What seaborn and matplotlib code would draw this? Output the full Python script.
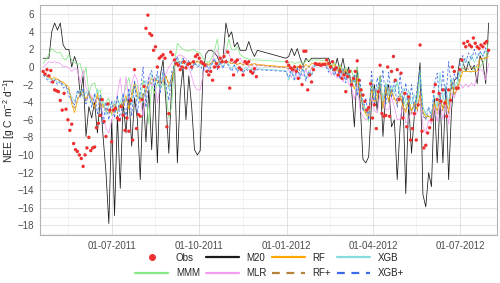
"""
NEE time series: observations vs. model predictions.
"""
import numpy as np
import pandas as pd
import matplotlib
matplotlib.use('Agg')
import matplotlib.pyplot as plt
import matplotlib.dates as mdates
from matplotlib.lines import Line2D
import seaborn as sns

nan = np.nan

# model series: one value every 3 days from 2011-04-20 (nan = no data)
model_start = "2011-04-20"

m20 = [1.0, 1.0, 1.0, 4.0, 5.0, 4.2, 5.0, 2.5, 2.0, 2.0,
       0.0, 1.2, 0.2, -3.3, -1.0, -7.9, -4.5, -5.8, -4.0, -7.5,
       -3.5, -8.0, -12.0, -17.8, -6.0, -16.9, -5.5, -13.8, -4.0, -7.5,
       -3.0, -9.0, -3.5, -6.0, -12.8, -3.0, -8.5, -2.5, -9.4, -2.0,
       -10.9, -1.0, 0.8, -4.0, -9.8, -2.0, 0.5, -10.9, -3.0, 0.0,
       -6.0, -1.0, -4.5, -9.4, -10.0, -9.5, -0.5, 1.5, 1.9, 1.9,
       1.6, 1.2, 0.3, 1.0, 5.0, 3.4, 4.0, 2.3, 2.8, 1.9,
       1.9, 1.9, 2.9, 1.9, 1.2, 1.9,
       nan, nan, nan, nan, nan, nan, nan, nan, nan,
       1.0, 1.2, 2.1, 1.3, 2.1, 1.0, 0.2, 1.0, 0.6, 1.0,
       1.0, 1.0, 1.0, 1.0, 1.0, 1.0, 0.0, -0.3, 1.0, -0.5,
       1.0, -0.9, 0.0, -2.5, -6.8, 0.0, -4.0, -10.5, -10.9, -10.2,
       -4.0, -2.0, -5.0, -1.0, -7.9, -3.0, -2.0, -6.8, -6.0, -12.8,
       -6.8, -3.5, -14.4, -4.0, -9.8, -5.5, -3.0, 0.5, -14.5, -15.9,
       -12.0, -13.6, -3.5, -10.9, -3.7, -10.9, -2.2, -12.8, -5.0, -1.5,
       -1.2, 1.0, 0.6, -0.5, 0.6, -0.3, 0.2, -1.9, 1.3, 0.5, -1.9, 5.0]

mmm = [0.4, 0.8, 1.5, 2.1, 1.8, 1.6, 1.7, 1.0, 0.8, 1.4,
       0.8, 0.5, 0.3, 0.4, -1.1, 0.0, -3.0, -2.0, -1.8, -3.0,
       -2.6, -4.5, -4.0, -3.5, -5.5, -5.2, -3.5, -4.5, -3.5, -2.2,
       -1.2, -3.0, -1.8, -2.2, -3.8, -1.5, -3.2, -6.5, -2.0, -3.0,
       -1.8, -2.4, -1.9, -2.5, -5.8, -4.5, 0.5, 2.7, 2.3, 2.0,
       1.9, 1.8, 2.0, 1.9, 1.7, 1.6, 1.0, 0.6, 0.5, 1.0,
       1.9, 3.2, 0.3, 1.2, 1.6, 3.2, 2.0, 1.9, 2.3, 1.4,
       1.2, 1.0, 0.9, 0.8, 0.8, 0.8,
       nan, nan, nan, nan, nan, nan, nan, nan, nan,
       0.6, 0.5, 0.6, 0.4, 0.5, 0.6, 0.3, 0.7, 0.8, 0.8,
       0.8, 0.8, 0.8, 0.7, 0.8, 0.4, 0.2, 0.5, -0.2, 0.3,
       -0.5, 0.0, -1.0, -0.3, -1.8, 0.0, -2.8, -4.0, -5.2, -6.2,
       -1.5, -3.0, -3.0, -1.1, -3.8, -1.8, -3.2, -2.6, -2.5, -1.9,
       -3.0, -3.6, -4.5, -3.7, -4.9, -4.5, -3.5, -0.3, -4.5, -5.5,
       -5.6, -5.8, -4.5, -4.2, -3.8, -4.6, -3.5, -4.0, -1.5, -2.6,
       -2.2, -0.5, -0.1, -0.5, -0.5, -0.6, 0.0, 0.0, 0.0, 0.5, 1.0, 3.0]

mlr = [0.0, 0.3, 0.6, 0.5, 0.6, 0.5, 0.4, 0.0, 0.1, -0.1,
       -0.5, -0.2, -0.3, -1.8, -0.3, -2.3, -3.0, -3.3, -4.0, -3.5,
       -4.0, -5.6, -7.0, -7.5, -6.0, -4.8, -3.0, -1.2, -4.0, -1.1,
       -3.7, -1.9, -0.8, -1.5, -3.7, -5.6, -3.0, -1.0, -2.2, -1.1,
       -4.1, -2.0, -1.4, -0.8, 0.0, 0.4, 1.0, 1.2, 1.4, 1.2,
       1.0, 0.0, -1.1, -2.2, -2.6, -2.6, -0.8, 0.2, -0.2, 0.5,
       1.6, 1.9, 0.2, 1.2, 2.0, 1.6, 0.6, 0.4, 0.6, 1.0,
       0.4, 0.8, 0.0, 0.4, -0.3, 0.2,
       nan, nan, nan, nan, nan, nan, nan, nan, nan,
       0.0, -0.3, -1.2, -0.2, -1.3, -0.6, -1.0, -0.3, -1.2, 0.0,
       0.2, 0.2, 0.1, 0.2, 0.1, -0.2, -0.9, -0.3, -1.3, -0.5,
       -1.7, -0.8, -1.9, -2.4, -3.7, -1.9, -4.9, -5.6, -6.0, -5.8,
       -3.4, -5.0, -5.2, -3.0, -3.4, -4.9, -4.8, -3.4, -4.5, -6.0,
       -5.9, -4.2, -6.4, -6.0, -4.9, -5.6, -5.2, -3.0, -6.8, -7.5,
       -6.0, -6.5, -4.5, -6.2, -4.0, -6.0, -4.2, -6.5, -3.0, -3.5,
       -2.5, -1.9, -2.4, -1.9, -2.3, -1.8, -2.2, -0.8, -0.2, -0.5, -1.5, 0.4]

rf = [-0.5, -0.9, -1.1, -1.3, -1.2, -1.4, -1.6, -1.7, -2.0, -2.3,
      -4.2, -5.2, -3.8, -3.0, -3.2, -3.6, -2.9, -3.8, -4.5, -3.0,
      -4.5, -4.2, -5.0, -4.8, -5.3, -4.5, -5.0, -4.2, -4.5, -3.2,
      -4.8, -3.5, -1.8, -3.0, -4.0, -3.5, -2.5, -1.9, -1.3, -1.6,
      -1.5, -2.0, -1.5, -1.1, -1.9, -1.5, 0.3, 0.5, 0.6, 0.4,
      0.5, 0.3, 0.5, 0.4, 0.6, 0.5, 0.4, 0.4, 0.3, 0.5,
      0.6, 0.4, 0.6, 0.7, 0.5, 0.6, 0.4, 0.5, 0.3, 0.4,
      0.3, 0.4, 0.3, 0.3, 0.4, 0.3,
      nan, nan, nan, nan, nan, nan, nan, nan, nan,
      0.0, 0.1, -0.3, 0.2, -0.2, 0.3, -0.1, 0.3, 0.0, 0.4,
      0.4, 0.4, 0.5, 0.4, 0.5, 0.2, 0.0, 0.3, -0.5, 0.0,
      -0.8, -0.3, -1.2, -1.5, -2.5, -1.2, -3.2, -4.5, -5.4, -5.6,
      -2.5, -4.0, -3.5, -2.0, -4.6, -2.5, -3.8, -2.8, -3.5, -4.2,
      -3.0, -4.5, -5.2, -3.8, -5.0, -4.2, -4.8, -3.2, -5.0, -5.7,
      -5.6, -5.8, -4.2, -5.0, -3.5, -4.8, -3.6, -5.2, -2.0, -3.0,
      -2.6, -1.5, -0.5, -0.5, -0.5, -0.5, -0.5, -0.5, 0.9, 1.0, 1.0, 1.2]

xgb = [-0.8, -1.0, -1.4, -1.5, -1.3, -1.7, -1.8, -2.0, -2.2, -2.8,
       -3.4, -3.9, -3.0, -2.6, -3.5, -2.8, -3.2, -4.1, -3.5, -2.5,
       -4.0, -3.6, -5.5, -4.2, -4.6, -3.8, -5.2, -3.9, -3.2, -4.0,
       -2.8, -4.3, -2.2, -3.8, -2.9, -4.1, -1.5, -2.6, -0.8, -2.0,
       -1.0, -2.4, -0.8, -1.8, -2.5, -1.0, 0.0, 0.8, 0.3, 0.9,
       0.2, 0.6, 0.0, 0.5, 0.2, 0.4, 0.1, 0.3, -0.1, 0.4,
       0.8, 0.2, 0.5, 0.0, 0.7, 0.3, -0.2, 0.3, -0.4, 0.1,
       -0.5, 0.0, -0.3, -0.2, -0.4, -0.2,
       nan, nan, nan, nan, nan, nan, nan, nan, nan,
       -0.4, -1.5, -0.5, -1.2, -0.3, -1.0, -0.2, -1.4, -0.4, -0.8,
       0.2, 0.3, 0.2, 0.3, 0.2, -0.4, 0.1, -0.8, 0.0, -1.2,
       -0.2, -1.5, -0.6, -2.2, -1.3, -2.8, -2.0, -4.2, -4.8, -5.3,
       -1.8, -3.6, -2.4, -1.6, -3.9, -1.9, -3.2, -2.1, -3.0, -1.5,
       -3.4, -2.4, -4.0, -2.6, -4.2, -3.1, -4.5, -1.0, -4.6, -5.2,
       -4.8, -5.3, -3.2, -4.6, -0.6, -3.8, -2.0, -4.4, -1.3, -2.4,
       -1.6, -0.8, 0.3, 1.0, 0.2, 1.4, 0.5, 1.2, 1.7, 1.3, 1.9, 1.6]

rf_plus = [-0.6, -1.0, -1.2, -1.4, -1.5, -1.3, -1.7, -1.9, -2.1, -2.6,
           -3.8, -4.8, -3.5, -3.3, -2.8, -3.9, -3.1, -3.5, -4.8, -3.3,
           -4.2, -4.6, -4.7, -5.2, -5.0, -4.1, -5.3, -4.4, -4.0, -3.6,
           -4.4, -3.0, -2.2, -3.4, -3.6, -3.1, -2.8, -1.6, -1.9, -1.2,
           -1.8, -1.6, -1.9, -0.9, -2.2, -1.2, 0.1, 0.4, 0.7, 0.3,
           0.6, 0.2, 0.6, 0.3, 0.7, 0.4, 0.2, 0.5, 0.1, 0.6,
           0.7, 0.3, 0.7, 0.5, 0.4, 0.7, 0.3, 0.6, 0.2, 0.5,
           0.2, 0.3, 0.2, 0.2, 0.3, 0.2,
           nan, nan, nan, nan, nan, nan, nan, nan, nan,
           -0.1, -0.2, 0.0, -0.4, 0.1, -0.5, 0.2, -0.3, 0.1, -0.2,
           0.3, 0.4, 0.3, 0.4, 0.3, 0.0, 0.2, -0.4, -0.1, -0.7,
           -0.3, -1.0, -0.6, -1.8, -1.2, -2.0, -2.8, -4.8, -5.2, -5.0,
           -2.2, -4.2, -3.0, -2.4, -4.8, -2.2, -4.0, -2.5, -3.8, -3.6,
           -3.3, -4.2, -5.0, -3.5, -5.3, -3.9, -5.0, -2.8, -5.2, -5.9,
           -5.4, -5.6, -3.9, -5.3, -3.1, -5.0, -3.3, -5.4, -1.7, -3.2,
           -2.3, -1.2, -0.2, 0.0, -0.3, 0.1, -0.2, 0.2, 1.0, 0.8, 1.2, 1.5]

xgb_plus = [-0.9, -1.3, -1.6, -1.8, -1.5, -2.0, -1.6, -2.4, -2.2, -3.3,
            -3.8, -4.3, -2.6, -3.5, -2.4, -4.2, -2.8, -4.6, -3.0, -5.3,
            -3.2, -6.6, -4.0, -6.0, -3.8, -5.8, -3.2, -6.2, -3.0, -5.8,
            -2.4, -5.6, -1.5, -5.2, -2.8, 0.0, -4.6, -1.2, -0.4, -2.5,
            -0.5, -3.0, -0.3, -2.0, -3.8, -0.6, 0.3, 1.2, 0.0, 1.0,
            -0.2, 0.8, -0.4, 0.5, 0.0, 0.2, -0.4, 0.4, -0.5, 0.2,
            1.0, -0.3, 0.6, -0.2, 0.9, 0.0, -0.5, 0.2, -0.6, 0.0,
            -0.7, -0.2, -0.5, -0.3, -0.6, -0.3,
            nan, nan, nan, nan, nan, nan, nan, nan, nan,
            -0.5, -1.2, -0.2, -1.6, 0.0, -1.3, 0.1, -1.6, -0.5, -1.0,
            0.1, 0.2, 0.1, 0.3, 0.1, -0.6, 0.0, -1.0, 0.1, -1.4,
            -0.2, -1.8, -0.4, -2.6, -0.8, -3.3, -1.5, -5.0, -3.5, -6.0,
            -0.5, -4.4, -1.2, -3.0, -0.3, -4.2, -0.6, -3.5, -1.4, -4.6,
            -0.8, -4.0, -1.8, -4.9, -2.0, -5.0, -2.3, -0.4, -5.5, -6.0,
            -4.5, -5.8, -2.0, -0.7, -4.2, -0.5, -3.8, 0.6, -2.5, -0.8,
            -1.5, 0.2, 1.3, 0.5, 1.6, 0.8, 2.0, 1.0, 1.8, 1.2, 2.2, 1.6]

# observations: one value every 2 days from 2011-04-20
obs = [-0.5, -0.8, -0.3, -1.0, -0.4, -1.7, -2.6, -2.7, -2.8, -3.8,
       -4.9, -3.0, -4.8, -6.0, -7.2, -6.5, -8.7, -9.4, -9.6, -10.0,
       -10.4, -11.3, -10.0, -9.2, -8.0, -9.5, -9.2, -9.1, -6.9, -6.4,
       -5.5, -3.7, -6.2, -7.9, -4.2, -4.9, -8.5, -4.9, -4.7, -5.8,
       -6.0, -4.5, -5.5, -7.2, -5.8, -7.3, -3.8, -8.3, -0.3, -7.0,
       -5.4, -5.6, -3.7, -2.2, 4.4, 5.9, 3.8, 3.6, 1.9, 2.3,
       0.0, 1.0, 1.2, 1.4, 1.0, -6.8, -5.3, 1.7, 1.4, 0.8,
       0.4, 0.2, -0.3, 0.0, 0.6, -0.1, 0.3, 0.4, 0.0, 0.6,
       1.2, 1.4, 1.0, 0.6, 0.4, 0.2, -0.5, -0.9, -0.5, -1.5,
       0.0, 0.4, 0.0, 1.0, 0.6, 1.2, 0.6, 1.7, -2.4, 0.8,
       -0.9, 0.6, 0.8, -0.1, -0.3, -0.9, 0.6, 0.4, 0.6, -0.5,
       -0.7, -0.2, -1.1,
       nan, nan, nan, nan, nan, nan, nan, nan, nan, nan,
       nan, nan, nan, nan, nan,
       0.6, 0.2, -0.1, -0.3, 0.0, -0.5, -1.3, 0.0, -2.0, 1.8,
       1.8, -2.6, -0.9, -1.7, -0.3, 0.4, 0.3, 0.3, 0.2, 0.3,
       0.3, 0.8, 0.4, 0.0, 0.6, -0.3, -0.1, -0.9, -0.5, -1.3,
       -0.9, -2.8, -1.1, -0.5, -2.0, -1.3, -0.5, 0.7,
       -1.5, -2.6, -3.2, -3.9, -4.9, -4.6, -1.9, -5.8, -4.3, -7.0,
       -2.8, 0.2, -5.3, -5.6, -5.5, 0.0, -5.6, -0.5, 1.2, -1.5,
       -0.3, -3.7, -0.7, -5.8, -3.0, -6.8, -3.4, -8.3, -7.0, -5.3,
       -8.3, -4.3, 2.5, -7.3, -9.2, -8.9, -7.5, -6.9, -6.0,
       -2.8, -2.0, -3.7, -3.0, -3.9, -2.6, -4.1, -5.6, -2.6, -3.8,
       0.0, -0.5, -2.4, -2.4, -0.3, 0.8, 2.7, 2.3, 2.9, 2.5,
       2.3, 3.3, 2.7, 2.3, 2.1, 2.5, 2.3, 2.7, 2.9, 1.9]

model_names = ["M20", "MMM", "MLR", "RF", "XGB", "RF+", "XGB+"]
model_values = [m20, mmm, mlr, rf, xgb, rf_plus, xgb_plus]
colors = {"M20": "#1a1a1a", "MMM": "#86e886", "MLR": "#f29cf2", "RF": "#ffa500",
          "XGB": "#86dcdc", "RF+": "#b5843a", "XGB+": "#3d6ae6"}
obs_color = "#ee3030"
dash_map = {"M20": "", "MMM": "", "MLR": "", "RF": "", "XGB": "",
            "RF+": (3.5, 2.5), "XGB+": (3.5, 2.5)}

x_ticks = ["2011-07-01", "2011-10-01", "2012-01-01", "2012-04-01", "2012-07-01"]
x_minor = ["2011-05-16", "2011-08-16", "2011-11-16", "2012-02-15", "2012-05-16"]

# long-form tables
model_dates = pd.date_range(model_start, periods=len(m20), freq="3D")
frames = [pd.DataFrame({"date": model_dates, "NEE": v, "model": n})
          for n, v in zip(model_names, model_values)]
df_models = pd.concat(frames).dropna()
df_obs = pd.DataFrame({"date": pd.date_range(model_start, periods=len(obs), freq="2D"),
                       "NEE": obs}).dropna()

sns.set_theme(style="white")
plt.rcParams['font.family'] = ['Liberation Sans', 'DejaVu Sans']
plt.rcParams['mathtext.default'] = 'regular'

fig = plt.figure(figsize=(5, 2.83), dpi=100)
ax = fig.add_axes([0.08, 0.1696, 0.914, 0.8127])

sns.lineplot(data=df_models, x="date", y="NEE", hue="model", style="model",
             hue_order=model_names, style_order=model_names, palette=colors,
             dashes=dash_map, estimator=None, linewidth=0.55, legend=False, ax=ax)
sns.scatterplot(data=df_obs, x="date", y="NEE", color=obs_color, s=6,
                edgecolor="none", legend=False, ax=ax, zorder=5)

ax.set_xlim(pd.Timestamp("2011-04-16 16:00"), pd.Timestamp("2012-08-08 20:00"))
ax.set_ylim(-19.1, 7.05)
ax.set_xticks(pd.to_datetime(x_ticks))
ax.set_xticks(pd.to_datetime(x_minor), minor=True)
ax.xaxis.set_major_formatter(mdates.DateFormatter("%d-%m-%Y"))
ax.set_yticks(np.arange(-18, 7, 2))
ax.set_yticks(np.arange(-19, 7, 2), minor=True)
ax.grid(which="major", color="#dedede", linewidth=0.6)
ax.grid(which="minor", color="#ebebeb", linewidth=0.4)
ax.set_axisbelow(True)
ax.tick_params(which="major", length=2.5, width=0.5, color="#b3b3b3",
               labelsize=7, labelcolor="#4d4d4d", pad=2)
ax.tick_params(which="minor", length=0)
for sp in ax.spines.values():
    sp.set_color("#b3b3b3")
    sp.set_linewidth(0.8)
ax.set_xlabel("")
ax.set_ylabel("NEE [g C m$^{-2}$ d$^{-1}$]", fontsize=7.5)
ax.yaxis.set_label_coords(-0.05, 0.5)

# legend: two rows, filled column-wise
handles = [
    Line2D([], [], color=obs_color, marker="o", linestyle="none", markersize=4),
    Line2D([], [], color=colors["MMM"], lw=1.6),
    Line2D([], [], color=colors["M20"], lw=1.6),
    Line2D([], [], color=colors["MLR"], lw=1.6),
    Line2D([], [], color=colors["RF"], lw=1.6),
    Line2D([], [], color=colors["RF+"], lw=1.6, dashes=(3.5, 3)),
    Line2D([], [], color=colors["XGB"], lw=1.6),
    Line2D([], [], color=colors["XGB+"], lw=1.6, dashes=(3.5, 3)),
]
labels = ["Obs", "MMM", "M20", "MLR", "RF", "RF+", "XGB", "XGB+"]
fig.legend(handles, labels, ncol=4, loc="center", bbox_to_anchor=(0.539, 0.062),
           frameon=False, fontsize=7, handlelength=3.4, handletextpad=0.75,
           columnspacing=0.6, labelspacing=0.55, borderpad=0)

fig.savefig("out.png", dpi=100)
plt.close(fig)
